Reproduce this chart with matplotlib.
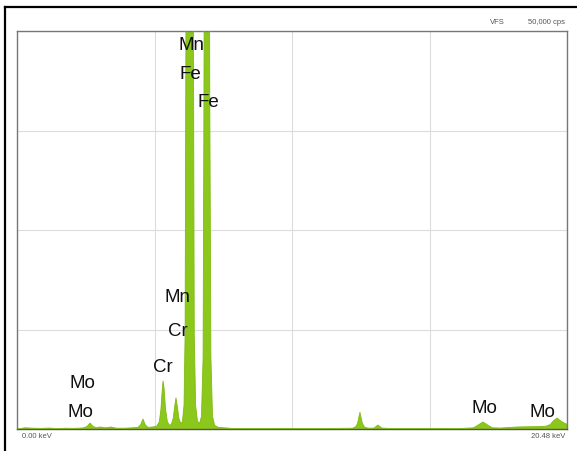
"""EDS spectrum of a stainless steel sample, 0-20.48 keV, VFS 50,000 cps."""
import numpy as np
import matplotlib
matplotlib.use("Agg")
import matplotlib.pyplot as plt
from matplotlib.lines import Line2D

# spectrum samples: energy (keV) and counts (cps); Fe peaks run off-scale
energy_kev = [
    0.00, 0.30, 0.60, 0.90, 1.20, 1.50, 1.80, 2.10, 2.40, 2.50, 2.62, 2.72, 2.82,
    2.95, 3.10, 3.30, 3.50, 3.70, 4.00, 4.30, 4.50, 4.60, 4.69, 4.78, 4.88, 5.05,
    5.20, 5.30, 5.36, 5.41, 5.44, 5.48, 5.53, 5.60, 5.68, 5.75, 5.82, 5.87, 5.92,
    5.97, 6.03, 6.10, 6.16, 6.22, 6.26, 6.29, 6.32, 6.43, 6.54, 6.57, 6.60, 6.65,
    6.72, 6.80, 6.87, 6.93, 6.96, 6.99, 7.07, 7.15, 7.18, 7.22, 7.28, 7.36, 7.50,
    8.00, 9.00, 10.00, 11.00, 12.00, 12.50, 12.62, 12.68, 12.77, 12.86, 12.95,
    13.10, 13.30, 13.44, 13.58, 13.80, 14.50, 15.50, 16.50, 17.00, 17.15, 17.35,
    17.55, 17.70, 18.00, 18.30, 18.60, 19.00, 19.40, 19.70, 19.85, 20.00, 20.11,
    20.25, 20.40, 20.48,
]
counts_cps = [
    0, 150, 100, 80, 120, 60, 100, 80, 120, 150, 350, 750, 350,
    150, 250, 150, 250, 100, 100, 150, 200, 500, 1250, 500, 200, 250,
    350, 900, 2500, 5000, 6030, 5000, 2500, 900, 450, 600, 1400, 2800, 3900,
    2800, 1300, 700, 900, 3000, 12000, 50000, 120000, 260000, 120000, 50000, 12000, 3000,
    1000, 700, 1600, 9000, 40000, 80000, 130000, 80000, 40000, 9000, 1600, 450, 200,
    80, 60, 80, 60, 80, 100, 300, 700, 2100, 700, 200,
    100, 120, 500, 120, 80, 60, 80, 60, 150, 450, 880,
    450, 150, 120, 180, 250, 280, 300, 350, 550, 1100, 1380,
    1000, 700, 600,
]

# element line labels (keV, cps)
label_text = ["Mn", "Fe", "Fe", "Mn", "Cr", "Cr", "Mo", "Mo", "Mo", "Mo"]
label_kev = [6.48, 6.44, 7.11, 5.96, 6.00, 5.44, 2.42, 2.35, 17.39, 19.55]
label_cps = [48300, 44700, 41200, 16600, 12400, 7900, 5800, 2150, 2750, 2150]

E_MAX = 20.48
VFS = 50000
GREEN = "#8cc71c"

plt.rcParams["font.family"] = ["Liberation Sans", "DejaVu Sans"]

fig = plt.figure(figsize=(5.77, 4.52), dpi=100)
ax = fig.add_axes([17 / 577, 1 - 430 / 452, 550 / 577, 398 / 452])

e = np.array(energy_kev)
c = np.array(counts_cps)
ax.fill_between(e, 0, c, color=GREEN, lw=0, zorder=2)
ax.plot(e, c, color="#7dbb10", lw=0.6, zorder=3)

ax.set_xlim(0, E_MAX)
ax.set_ylim(0, VFS)
ax.set_xticks(np.linspace(0, E_MAX, 5))
ax.set_yticks(np.linspace(0, VFS, 5))
ax.tick_params(length=0, labelbottom=False, labelleft=False)
ax.grid(color="#dcdcdc", lw=0.8, zorder=0)
for sp in ax.spines.values():
    sp.set_color("#777777")
    sp.set_linewidth(1.0)
ax.spines["bottom"].set_color("#555555")

for txt, x, y in zip(label_text, label_kev, label_cps):
    ax.text(x, y, txt, ha="center", va="center", fontsize=13.5,
            color="#111111", zorder=5)

# header and range captions
fig.text(497 / 577, 1 - 22 / 452, "VFS", fontsize=5.5, color="#555555",
         ha="center", va="center")
fig.text(565 / 577, 1 - 22 / 452, "50,000 cps", fontsize=5.5, color="#555555",
         ha="right", va="center")
fig.text(22 / 577, 1 - 437 / 452, "0.00 keV", fontsize=5.5, color="#555555",
         ha="left", va="center")
fig.text(565 / 577, 1 - 437 / 452, "20.48 keV", fontsize=5.5, color="#555555",
         ha="right", va="center")

# outer panel border (top and left edges)
fig.add_artist(Line2D([5 / 577, 1.0], [1 - 8 / 452, 1 - 8 / 452],
                      transform=fig.transFigure, color="black", lw=1.6))
fig.add_artist(Line2D([5 / 577, 5 / 577], [0.0, 1 - 8 / 452],
                      transform=fig.transFigure, color="black", lw=1.6))

fig.savefig("out.png", dpi=100)
